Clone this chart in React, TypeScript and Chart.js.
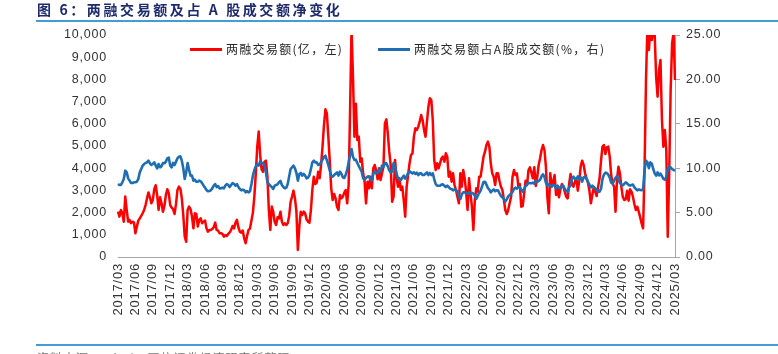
import React, { useEffect, useRef } from 'react';
import { Chart, registerables } from 'chart.js';

Chart.register(...registerables);

// Quarter tick labels shown on the x axis
const quarterTicks = [
  '2017/03', '2017/06', '2017/09', '2017/12',
  '2018/03', '2018/06', '2018/09', '2018/12',
  '2019/03', '2019/06', '2019/09', '2019/12',
  '2020/03', '2020/06', '2020/09', '2020/12',
  '2021/03', '2021/06', '2021/09', '2021/12',
  '2022/03', '2022/06', '2022/09', '2022/12',
  '2023/03', '2023/06', '2023/09', '2023/12',
  '2024/03', '2024/06', '2024/09', '2024/12',
  '2025/03',
];

// 两融交易额 (亿元), weekly, 4 points per month
const amount2017 = [
  2040, 1820, 2120, 1970, 1590, 2720, 2120, 1590, 1670, 1520,
  1590, 1560, 1070, 1370, 1640, 1740, 1850, 1970, 2120, 2340,
  2640, 2910, 2690, 2420, 2570, 3050, 3230, 2790, 2120, 2690,
  2420, 2040, 2300, 2790, 3050, 2870, 2340, 2220, 2150, 1940,
];
const amount2018 = [
  2390, 3020, 3170, 3080, 2640, 1890, 920, 690, 2120, 2270,
  2160, 1820, 1290, 1970, 1940, 1370, 1670, 1740, 1520, 1590,
  1640, 1290, 1140, 1220, 1220, 1260, 1340, 1550, 1220, 1190,
  1070, 1070, 1040, 920, 990, 950, 1040, 1110, 1220, 1400,
  1290, 1550, 1670, 1340, 1140, 1100, 1190, 840,
];
const amount2019 = [
  620, 950, 1220, 1280, 1640, 2000, 2720, 3770, 4970, 5650,
  4600, 3950, 3840, 4290, 4340, 3620, 2120, 1220, 2270, 2040,
  1590, 1440, 1790, 1740, 2040, 1590, 1440, 1520, 1440, 1520,
  1850, 2490, 2720, 2990, 2640, 2040, 320, 1366, 2042, 1892,
  2042, 1967, 1696, 1591, 1546, 2117, 3048, 3619,
];
const amount2020 = [
  3288, 3348, 3844, 3544, 4144, 4970, 5946, 6652, 6472, 5421,
  4294, 3093, 2567, 2838, 2643, 2267, 2117, 2793, 2643, 2718,
  2898, 3018, 2417, 3243, 6622, 10300, 8124, 5421, 6900, 5270,
  5421, 4294, 4445, 3769, 3394, 2417, 3394, 3093, 3619, 3093,
  3994, 4144, 3889, 3499, 3994, 3469, 3769, 4069,
];
const amount2021 = [
  6021, 6201, 5571, 4745, 4144, 2492, 2718, 4370, 3619, 3168,
  3544, 3018, 3168, 2567, 1816, 3168, 3694, 4219, 4595, 4670,
  5421, 5796, 5721, 5871, 6096, 6397, 6171, 5721, 5421, 6096,
  6772, 7147, 7072, 6171, 4370, 3919, 4219, 3994, 4219, 4445,
  4520, 4294, 4670, 4520, 3619, 3844, 3394, 3769,
];
const amount2022 = [
  3243, 3018, 2718, 2417, 3769, 3168, 3919, 3544, 2943, 2117,
  3544, 2868, 2267, 1216, 2567, 3093, 2943, 3619, 3619, 4069,
  4520, 4745, 5045, 5195, 4970, 4219, 3769, 3619, 3243, 3769,
  3769, 3438, 3168, 3018, 2597, 2117, 1937, 2117, 2417, 2718,
  3619, 3919, 3694, 3769, 3198, 3288, 2267, 2297,
];
const amount2023 = [
  2868, 3438, 3243, 3919, 4039, 3799, 3544, 4039, 3198, 3589,
  4144, 4445, 4820, 5045, 4820, 4069, 2718, 1967, 3769, 3168,
  3394, 3694, 2793, 3168, 2688, 3048, 3288, 3168, 2943, 2718,
  2643, 3288, 3739, 3288, 3168, 3394, 3544, 2988, 3438, 4099,
  4339, 4144, 3769, 3544, 3348, 2988, 2417, 2793,
];
const amount2024 = [
  3138, 2943, 2748, 3168, 3544, 4339, 4970, 5045, 4640, 4940,
  4970, 4520, 3694, 3318, 3168, 2042, 3469, 4069, 3769, 3168,
  2718, 2567, 2597, 2988, 2537, 3048, 2943, 2718, 2387, 2117,
  2267, 2042, 1786, 1516, 1291, 3919, 7974, 10400, 9325, 10300,
  9775, 10200, 10000, 8124, 7223, 8424, 8875, 6171,
];
const amount2025 = [4970, 5721, 4820, 915, 3769, 7523, 9625, 10100, 7974];

// 两融交易额占A股成交额 (%), same weekly grid
const ratio2017 = [
  8.22, 8.11, 8.11, 8.41, 8.78, 9.72, 9.53, 8.86, 8.60, 8.33,
  8.33, 8.41, 8.41, 8.48, 8.78, 9.53, 9.91, 10.29, 10.47, 10.59,
  10.66, 10.85, 10.55, 10.36, 10.47, 10.66, 10.29, 9.99, 10.47, 10.10,
  10.21, 10.59, 10.55, 10.74, 11.11, 11.19, 10.29, 10.10, 10.59, 10.36,
];
const ratio2018 = [
  10.74, 11.11, 11.30, 11.34, 10.85, 9.99, 8.78, 9.53, 10.59, 9.83,
  9.16, 9.16, 8.60, 8.71, 8.48, 8.48, 8.60, 8.52, 8.33, 8.03,
  7.81, 7.55, 7.40, 7.43, 7.51, 7.73, 8.03, 8.22, 7.88, 7.99,
  7.73, 7.73, 7.81, 7.73, 8.03, 8.22, 8.11, 7.88, 8.11, 8.33,
  8.22, 8.03, 8.22, 7.88, 7.66, 7.51, 7.58, 7.51,
];
const ratio2019 = [
  7.28, 7.43, 7.28, 7.40, 8.22, 9.16, 9.80, 10.21, 10.47, 10.29,
  10.77, 10.59, 10.59, 10.29, 9.53, 8.41, 8.22, 8.03, 7.88, 7.66,
  8.03, 8.11, 8.18, 8.41, 8.56, 8.11, 7.88, 7.73, 7.81, 8.22,
  9.08, 9.91, 10.10, 10.29, 9.99, 9.46, 8.60, 9.35, 9.46, 9.16,
  9.35, 9.16, 8.86, 8.93, 9.23, 9.91, 10.66, 10.85,
];
const ratio2020 = [
  10.66, 10.66, 10.36, 10.44, 10.66, 10.96, 11.26, 11.41, 10.89, 10.36,
  9.72, 9.16, 9.05, 9.23, 9.38, 9.53, 9.16, 9.61, 9.38, 8.97,
  8.90, 9.27, 9.80, 10.66, 11.49, 12.16, 11.30, 10.92, 10.96, 10.59,
  10.25, 9.91, 9.61, 8.86, 8.71, 8.90, 9.05, 9.08, 8.78, 8.60,
  9.35, 9.65, 9.42, 9.46, 9.84, 9.61, 10.29, 10.14,
];
const ratio2021 = [
  10.59, 10.55, 10.21, 9.76, 9.53, 9.61, 10.59, 10.14, 9.38, 8.90,
  8.71, 8.67, 8.93, 9.16, 8.82, 9.08, 9.46, 9.65, 9.53, 9.42,
  9.53, 9.35, 9.50, 9.23, 9.42, 9.42, 9.23, 9.23, 9.38, 9.53,
  9.23, 9.46, 9.23, 9.42, 8.78, 8.22, 8.03, 8.03, 8.03, 8.15,
  8.18, 8.03, 7.88, 8.03, 7.88, 7.69, 7.66, 7.51,
];
const ratio2022 = [
  7.62, 7.55, 7.36, 6.91, 6.53, 7.06, 7.28, 7.28, 7.21, 7.13,
  7.28, 7.13, 7.24, 7.13, 6.91, 6.53, 6.91, 7.21, 7.47, 7.96,
  8.45, 8.48, 8.15, 7.77, 7.58, 7.28, 7.47, 7.62, 7.40, 7.51,
  7.51, 7.17, 6.87, 6.72, 6.53, 6.23, 6.49, 6.83, 6.98, 7.13,
  7.32, 7.66, 7.81, 7.69, 7.88, 7.85, 7.55, 7.36,
];
const ratio2023 = [
  7.66, 7.99, 8.18, 8.37, 8.30, 8.30, 8.37, 8.26, 8.60, 8.45,
  8.56, 8.71, 9.08, 9.31, 9.01, 8.37, 8.03, 8.18, 7.96, 7.96,
  8.11, 8.07, 7.73, 8.03, 7.85, 7.69, 8.03, 8.03, 7.69, 7.43,
  7.32, 7.85, 8.03, 8.90, 9.05, 8.78, 8.78, 9.08, 8.78, 8.97,
  8.48, 8.97, 9.05, 8.82, 8.48, 8.15, 7.85, 8.03,
];
const ratio2024 = [
  7.88, 7.73, 7.55, 7.40, 7.36, 7.69, 8.78, 9.27, 9.50, 9.46,
  9.27, 8.93, 8.37, 8.26, 8.60, 8.90, 9.12, 8.71, 8.33, 8.18,
  8.07, 8.22, 8.41, 8.30, 8.11, 8.03, 8.11, 8.15, 7.85, 7.66,
  7.51, 7.62, 7.55, 7.51, 7.66, 9.72, 10.85, 10.66, 9.99, 10.66,
  10.51, 9.91, 9.42, 9.16, 9.53, 9.20, 9.40, 9.10,
];
const ratio2025 = [8.80, 8.70, 9.00, 9.90, 10.20, 10.10, 9.90, 9.80, 9.70];

const marginAmount = [
  ...amount2017, ...amount2018, ...amount2019, ...amount2020, ...amount2021,
  ...amount2022, ...amount2023, ...amount2024, ...amount2025,
];
const marginRatio = [
  ...ratio2017, ...ratio2018, ...ratio2019, ...ratio2020, ...ratio2021,
  ...ratio2022, ...ratio2023, ...ratio2024, ...ratio2025,
];

const POINTS_PER_MONTH = 4;
const POINTS_PER_QUARTER = 12;
const pointLabels = marginAmount.map((_, i) => {
  const m = Math.floor(i / POINTS_PER_MONTH) + 2;
  const y = 2017 + Math.floor(m / 12);
  const mo = (m % 12) + 1;
  return `${y}/${String(mo).padStart(2, '0')}`;
});

const RED = '#FF0000';
const BLUE = '#1F6DB2';
const AXIS_GRAY = '#A6A6A6';
const TICK_COLOR = '#333333';
const LEGEND_RED = '两融交易额(亿，左)';
const LEGEND_BLUE = '两融交易额占A股成交额(%，右)';

const spacingPlugin = {
  id: 'letterSpacingPlugin',
  beforeUpdate(chart: any) {
    try { (chart.ctx as any).letterSpacing = '0.8px'; } catch (e) {}
  },
  beforeDraw(chart: any) {
    try { (chart.ctx as any).letterSpacing = '0.8px'; } catch (e) {}
  },
};

export default function App() {
  const canvasRef = useRef<HTMLCanvasElement | null>(null);

  useEffect(() => {
    const canvas = canvasRef.current;
    if (!canvas) return;
    const tickFont = { family: '"Liberation Sans", Arial, sans-serif', size: 12.5 };
    const chart = new Chart(canvas, {
      type: 'line',
      data: {
        labels: pointLabels,
        datasets: [
          {
            label: LEGEND_RED,
            data: marginAmount,
            borderColor: RED,
            backgroundColor: RED,
            borderWidth: 2.5,
            pointRadius: 0,
            tension: 0,
            borderJoinStyle: 'round',
            yAxisID: 'y',
            order: 1,
          },
          {
            label: LEGEND_BLUE,
            data: marginRatio,
            borderColor: BLUE,
            backgroundColor: BLUE,
            borderWidth: 2.6,
            pointRadius: 0,
            tension: 0,
            borderJoinStyle: 'round',
            yAxisID: 'y1',
            order: 0,
          },
        ],
      },
      options: {
        animation: false,
        responsive: true,
        maintainAspectRatio: false,
        layout: { padding: { left: 0, right: 0, top: 35, bottom: 22 } },
        plugins: {
          legend: { display: false },
          tooltip: { enabled: false },
          title: { display: false },
        },
        scales: {
          x: {
            type: 'category',
            grid: { display: false, drawTicks: false },
            border: { display: true, color: AXIS_GRAY, width: 1 },
            ticks: {
              autoSkip: false,
              minRotation: 90,
              maxRotation: 90,
              padding: 6,
              color: TICK_COLOR,
              font: { family: '"Liberation Sans", Arial, sans-serif', size: 13 },
              callback: (_v: any, i: number) =>
                i % POINTS_PER_QUARTER === 0 ? quarterTicks[i / POINTS_PER_QUARTER] : null,
            },
            afterFit: (s: any) => { s.height = 75; },
          },
          y: {
            position: 'left',
            min: 0,
            max: 10000,
            grid: { display: false, drawTicks: false },
            border: { display: false },
            ticks: {
              stepSize: 1000,
              padding: 11,
              color: TICK_COLOR,
              font: tickFont,
              callback: (v: any) => Number(v).toLocaleString('en-US'),
            },
            afterFit: (s: any) => { s.width = 118; },
          },
          y1: {
            position: 'right',
            min: 0,
            max: 25,
            grid: { display: true, drawOnChartArea: false, drawTicks: true, tickLength: 5, color: AXIS_GRAY },
            border: { display: true, color: AXIS_GRAY, width: 1 },
            ticks: {
              stepSize: 5,
              padding: 6,
              color: TICK_COLOR,
              font: tickFont,
              callback: (v: any) => Number(v).toFixed(2),
            },
            afterFit: (s: any) => { s.width = 103; },
          },
        },
      } as any,
      plugins: [spacingPlugin],
    });
    return () => chart.destroy();
  }, []);

  const cjk = '"Noto Sans CJK SC", "Noto Sans", sans-serif';

  return (
    <div style={{ position: 'absolute', left: 0, top: 0, width: 778, height: 354, background: '#ffffff', overflow: 'hidden' }}>
      <div style={{ position: 'absolute', left: 0, top: 0, width: 778, height: 354 }}>
        <canvas ref={canvasRef} />
      </div>
      <div style={{ position: 'absolute', left: 37, top: 0, fontFamily: cjk, fontSize: 14, fontWeight: 700, lineHeight: '18px', letterSpacing: '2.6px', color: '#1F2B6B', whiteSpace: 'nowrap' }}>
        图 6：两融交易额及占 A 股成交额净变化
      </div>
      <div style={{ position: 'absolute', left: 36, top: 20, width: 742, height: 2, background: '#449CD6' }} />
      <div style={{ position: 'absolute', left: 190, top: 47.5, width: 32, height: 3, background: RED }} />
      <div style={{ position: 'absolute', left: 226, top: 41, fontFamily: cjk, fontSize: 12, lineHeight: '16px', letterSpacing: '1.3px', color: '#262626', whiteSpace: 'nowrap' }}>
        {LEGEND_RED}
      </div>
      <div style={{ position: 'absolute', left: 378, top: 47.5, width: 32, height: 3, background: BLUE }} />
      <div style={{ position: 'absolute', left: 414, top: 41, fontFamily: cjk, fontSize: 12, lineHeight: '16px', letterSpacing: '1.3px', color: '#262626', whiteSpace: 'nowrap' }}>
        {LEGEND_BLUE}
      </div>
      <div style={{ position: 'absolute', left: 36, top: 344, width: 742, height: 2, background: '#449CD6' }} />
      <div style={{ position: 'absolute', left: 37, top: 350, fontFamily: cjk, fontSize: 12, lineHeight: '16px', letterSpacing: '1px', color: '#777777', whiteSpace: 'nowrap' }}>
        资料来源：Wind、国信证券经济研究所整理
      </div>
    </div>
  );
}
